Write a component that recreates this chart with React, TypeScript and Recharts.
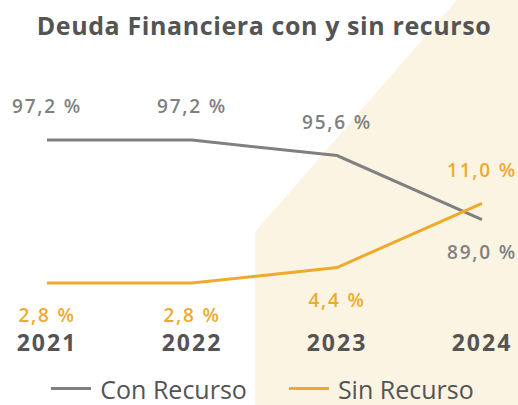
import React from "react";
import { LineChart, Line, XAxis, YAxis, LabelList, Legend } from "recharts";

const years = ["2021", "2022", "2023", "2024"];
const conRecurso = [97.2, 97.2, 95.6, 89.0];
const sinRecurso = [2.8, 2.8, 4.4, 11.0];

const GRAY = "#808080";
const ORANGE = "#EEAA2C";
const TEXT = "#545454";

const data = years.map((year, i) => ({
  year,
  con: conRecurso[i],
  sin: sinRecurso[i],
}));

const fmt = (v: number) => `${v.toFixed(1).replace(".", ",")} %`;

function makeLabel(color: string, flipIndex: number, normalAbove: boolean) {
  return (props: any) => {
    const { x, y, value, index } = props;
    const above = index === flipIndex ? !normalAbove : normalAbove;
    const dy = above ? -32 : 34;
    return (
      <text
        x={x}
        y={y + dy}
        textAnchor="middle"
        dominantBaseline="middle"
        fill={color}
        fontSize={19}
        fontWeight={600}
        letterSpacing={1.8}
      >
        {fmt(value)}
      </text>
    );
  };
}

function LegendContent() {
  const items = [
    { label: "Con Recurso", color: GRAY },
    { label: "Sin Recurso", color: ORANGE },
  ];
  return (
    <div
      style={{
        display: "flex",
        justifyContent: "center",
        gap: 42,
        paddingTop: 12,
        paddingRight: 4,
        height: 45,
        boxSizing: "border-box",
      }}
    >
      {items.map((it) => (
        <div key={it.label} style={{ display: "flex", alignItems: "center", gap: 9 }}>
          <span style={{ width: 40, height: 3, background: it.color, display: "inline-block" }} />
          <span style={{ fontSize: 25, color: TEXT, fontWeight: 400, lineHeight: "28px" }}>
            {it.label}
          </span>
        </div>
      ))}
    </div>
  );
}

export default function App() {
  return (
    <div
      style={{
        position: "absolute",
        left: 0,
        top: 0,
        width: 518,
        height: 405,
        background: "#fff",
        fontFamily: "'Open Sans', sans-serif",
        overflow: "hidden",
      }}
    >
      <div
        style={{
          position: "absolute",
          inset: 0,
          background: "#FBF4E3",
          clipPath: "polygon(457px 0, 518px 0, 518px 405px, 255px 405px, 255px 232px)",
        }}
      />
      <div
        style={{
          position: "absolute",
          top: 8,
          left: 0,
          width: 528,
          textAlign: "center",
          fontSize: 25,
          fontWeight: 700,
          letterSpacing: 0.6,
          color: TEXT,
        }}
      >
        Deuda Financiera con y sin recurso
      </div>
      <div style={{ position: "absolute", left: 0, top: 0 }}>
        <LineChart
          width={518}
          height={405}
          data={data}
          margin={{ top: 60, right: 36, left: 47, bottom: 0 }}
        >
          <XAxis
            dataKey="year"
            axisLine={false}
            tickLine={false}
            height={40}
            tick={{ fill: TEXT, fontSize: 23, fontWeight: 700, letterSpacing: 2 }}
            dy={7}
            interval={0}
          />
          <YAxis yAxisId="con" hide domain={[78.65, 105.45]} />
          <YAxis yAxisId="sin" hide domain={[-1.01, 25.79]} />
          <Legend verticalAlign="bottom" height={45} content={<LegendContent />} />
          <Line
            yAxisId="con"
            dataKey="con"
            stroke={GRAY}
            strokeWidth={3}
            dot={false}
            type="linear"
            isAnimationActive={false}
          >
            <LabelList dataKey="con" content={makeLabel(GRAY, 3, true)} />
          </Line>
          <Line
            yAxisId="sin"
            dataKey="sin"
            stroke={ORANGE}
            strokeWidth={3}
            dot={false}
            type="linear"
            isAnimationActive={false}
          >
            <LabelList dataKey="sin" content={makeLabel(ORANGE, 3, false)} />
          </Line>
        </LineChart>
      </div>
    </div>
  );
}
